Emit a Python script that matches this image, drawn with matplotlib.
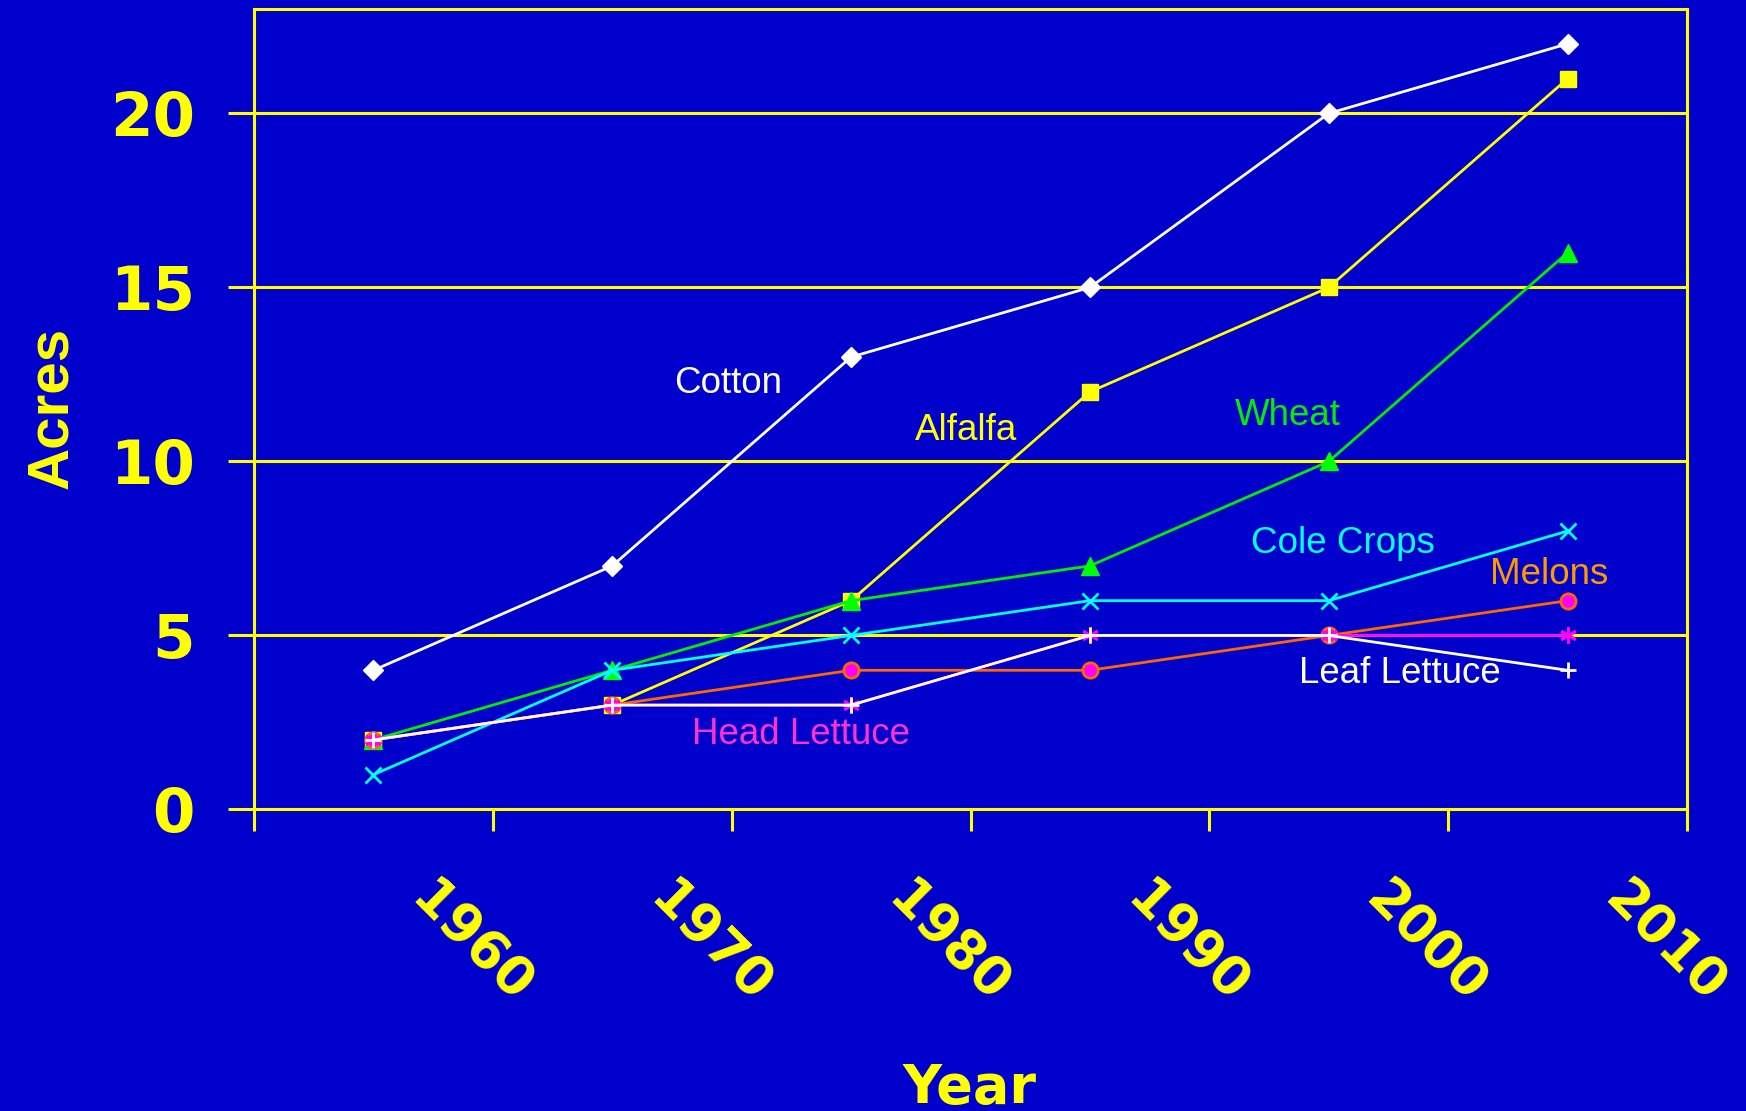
import numpy as np
import matplotlib
matplotlib.use("Agg")
import matplotlib.pyplot as plt

years = ["1960", "1970", "1980", "1990", "2000", "2010"]
cotton = [4, 7, 13, 15, 20, 22]
alfalfa = [2, 3, 6, 12, 15, 21]
wheat = [2, 4, 6, 7, 10, 16]
cole = [1, 4, 5, 6, 6, 8]
melons = [2, 3, 4, 4, 5, 6]
head_lettuce = [2, 3, 3, 5, 5, 5]
leaf_lettuce = [2, 3, 3, 5, 5, 4]

BG = "#0000CC"
GELB = "#FFFF00"

fig = plt.figure(figsize=(17.46, 11.11), dpi=100, facecolor=BG)
ax = fig.add_axes([0.14548, 0.27138, 0.82073, 0.72052], facecolor=BG)
xx = np.arange(len(years))

ax.plot(xx, cotton, color="white", lw=2, marker="D", ms=10.5, mfc="white", mec="white", zorder=3)
ax.plot(xx, alfalfa, color=GELB, lw=2, marker="s", ms=12, mfc=GELB, mec=GELB, zorder=3)
ax.plot(xx, wheat, color="#00EE00", lw=2, marker="^", ms=13, mfc="#00FF00", mec="#00FF00", zorder=3)
ax.plot(xx, cole, color="#00FFFF", lw=2, marker="x", ms=11, mew=2, mec="#00FFFF", zorder=3)
ax.plot(xx, melons, color="#FF6600", lw=2, marker="o", ms=11, mfc="#FF00FF", mec="#FF6600", mew=2, zorder=3)
ax.plot(xx, head_lettuce, color="#FF00FF", lw=2, marker=(6, 2, 0), ms=12, mew=2, mec="#FF00FF", zorder=3)
ax.plot(xx, leaf_lettuce, color="white", lw=2, marker="+", ms=11, mew=2, mec="white", zorder=3)

# serienavn
fs_lab = 26.5
lab_font = "Liberation Sans"
ax.text(1.487, 11.96, "Cotton", color="white", fontsize=fs_lab, family=lab_font, ha="center", va="baseline")
ax.text(2.481, 10.61, "Alfalfa", color=GELB, fontsize=fs_lab, family=lab_font, ha="center", va="baseline")
ax.text(3.828, 11.04, "Wheat", color="#00EE00", fontsize=fs_lab, family=lab_font, ha="center", va="baseline")
ax.text(4.059, 7.36, "Cole Crops", color="#00FFFF", fontsize=fs_lab, family=lab_font, ha="center", va="baseline")
ax.text(4.925, 6.47, "Melons", color="#FF9900", fontsize=fs_lab, family=lab_font, ha="center", va="baseline")
ax.text(1.791, 1.88, "Head Lettuce", color="#FF33CC", fontsize=fs_lab, family=lab_font, ha="center", va="baseline")
ax.text(4.297, 3.63, "Leaf Lettuce", color="white", fontsize=fs_lab, family=lab_font, ha="center", va="baseline")

ax.set_xlim(-0.5, 5.5)
ax.set_ylim(0, 23)
ax.set_yticks([0, 5, 10, 15, 20])
ax.set_yticklabels(["0", "5", "10", "15", "20"], fontsize=44, fontweight="bold", color=GELB, family="DejaVu Sans")
ax.set_xticks(np.arange(-0.5, 6, 1))
ax.set_xticklabels([])
ax.tick_params(axis="y", length=18.7, width=2.2, color=GELB, pad=24)
ax.tick_params(axis="x", length=16, width=2.2, color=GELB)
ax.yaxis.grid(True, color=GELB, lw=2.2)
ax.set_axisbelow(True)
for s in ax.spines.values():
    s.set_color(GELB)
    s.set_linewidth(2.2)

# årstall skrått under aksen
for i, aar in enumerate(years):
    ax.annotate(aar, xy=(i, 0), xytext=(97 * 0.72, -133.5 * 0.72), textcoords="offset points",
                ha="center", va="center", rotation=-45, rotation_mode="anchor",
                fontsize=38, fontweight="bold", color=GELB, family="DejaVu Sans")

fig.text(67 / 1746, 1 - 408 / 1111, "Acres", rotation=90, rotation_mode="anchor", ha="center", va="baseline",
         fontsize=42, fontweight="bold", color=GELB, family="Liberation Sans")
fig.text(970 / 1746, 1 - 1103 / 1111, "Year", ha="center", va="baseline",
         fontsize=39, fontweight="bold", color=GELB, family="DejaVu Sans")

fig.savefig("out.png", dpi=100, facecolor=BG)
